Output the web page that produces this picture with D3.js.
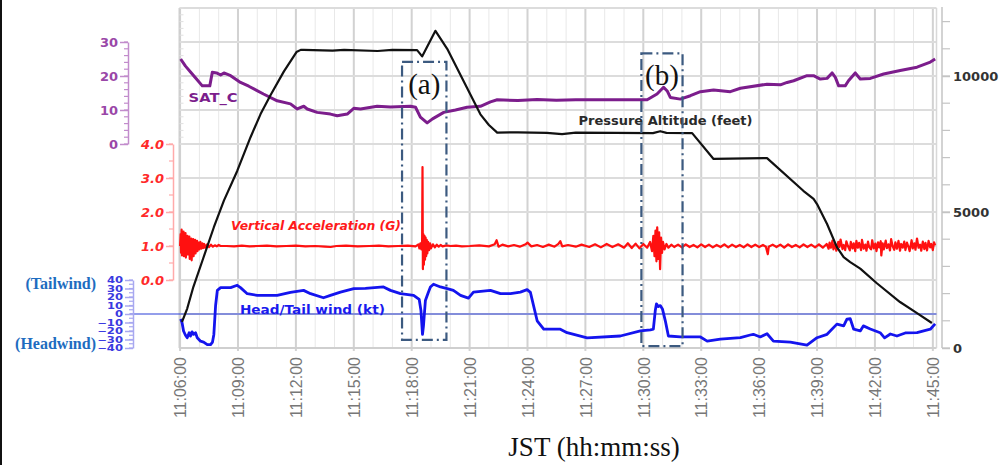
<!DOCTYPE html>
<html><head><meta charset="utf-8">
<script src="https://cdn.jsdelivr.net/npm/d3@7"></script>
<style>body{margin:0;background:#fff}svg{display:block}</style>
</head><body><svg id="c" width="1006" height="465"></svg>
<script>
// ---------- data (time in minutes after 11:06:00) ----------
const xTickLabels = ["11:06:00","11:09:00","11:12:00","11:15:00","11:18:00","11:21:00","11:24:00","11:27:00","11:30:00","11:33:00","11:36:00","11:39:00","11:42:00","11:45:00"];
const satTicks = [0,10,20,30];
const accTicks = [0,1,2,3,4];
const windTicks = [-40,-30,-20,-10,0,10,20,30,40];
const altTicks = [0,5000,10000];

const altT = [0.1,0.37,0.69,1.2,1.75,2.27,2.96,3.65,4.17,4.69,5.38,6.03,6.25,6.4,7.9,8.5,10.23,11.0,12.28,12.54,13.23,13.84,14.87,15.56,16.0,16.43,17.5,19.0,19.79,20.5,22.5,24.5,24.88,25.2,26.53,27.64,30.41,32.29,32.82,33.0,33.52,34.03,34.38,34.72,35.24,36.1,37.3,38.18,38.95];
const altV = [960,1450,2250,3300,4440,5420,6510,7750,8600,9300,10170,10880,10960,10960,10930,10960,10920,10960,10950,10720,11660,11000,9560,8590,8200,7920,7930,7910,7860,7920,7910,7900,7970,7910,7900,6950,6980,5780,5480,5290,4560,3710,3340,3160,2920,2380,1690,1280,920];

const satT = [0.03,0.28,0.54,0.85,1.15,1.54,1.67,1.89,2.1,2.27,2.62,3.13,3.56,4.32,5.03,5.72,6.07,6.41,6.59,7.1,7.79,8.14,8.66,9.0,9.35,10.21,10.9,11.94,12.2,12.45,12.8,13.08,13.66,14.27,14.87,15.56,16.08,16.43,17.5,18.5,19.5,20.5,22.0,24.2,24.71,25.05,25.25,25.4,25.92,26.44,26.96,27.64,28.51,29.03,30.41,31.1,31.45,31.79,32.48,32.82,33.17,33.52,33.78,33.95,34.12,34.46,34.63,34.98,35.24,35.76,36.45,37.31,38.18,38.87,39.12];
const satV = [25,22.9,21.2,19.1,17.1,17.1,21.1,20.9,20.3,20.9,20.1,18.1,17.0,14.7,12.7,11.8,10.3,11.1,10.3,9.3,8.8,8.3,8.8,10.5,10.3,11.1,10.9,11.1,10.8,7.9,6.2,7.4,9.3,10.0,10.8,11.1,12.4,13.0,12.8,13.1,12.9,13.0,13.0,13.0,14.7,16.7,15.5,13.7,13.2,14.2,15.4,15.9,15.4,16.4,17.6,17.4,18.1,18.6,20.1,20.1,19.1,19.3,20.9,19.6,17.1,17.1,18.6,20.9,19.1,19.3,20.6,21.6,22.6,24.1,25.0];

const accT = [0.00,0.03,0.05,0.08,0.10,0.13,0.15,0.18,0.20,0.23,0.25,0.28,0.30,0.33,0.35,0.38,0.40,0.43,0.45,0.48,0.50,0.53,0.55,0.58,0.60,0.63,0.65,0.68,0.70,0.73,0.75,0.78,0.80,0.83,0.85,0.88,0.90,0.95,1.00,1.05,1.10,1.15,1.20,1.25,1.30,1.40,1.50,1.60,1.70,1.80,1.90,2.00,2.10,
2.4,2.8,3.2,3.6,4.0,4.5,5.0,5.5,6.0,6.5,7.0,7.5,7.8,8.1,8.6,9.2,9.8,10.3,10.8,11.3,11.8,12.2,12.35,12.4,
12.45,12.50,12.54,12.56,12.58,12.60,12.63,12.66,12.69,12.72,12.75,12.78,12.81,12.85,12.9,12.95,13.0,13.1,13.2,13.3,13.4,13.5,13.6,13.8,14.0,14.3,14.6,15.0,
15.5,16.0,16.3,16.4,16.5,16.7,17.0,17.3,17.6,17.9,18.0,18.2,18.5,18.8,19.1,19.4,19.6,19.7,19.8,20.1,20.5,20.8,21.2,21.5,21.8,22.1,22.4,22.7,23.0,23.2,23.4,23.6,23.8,24.0,24.2,
24.35,24.45,24.52,24.58,24.63,24.68,24.72,24.78,24.82,24.87,24.92,24.97,25.02,25.1,25.2,25.3,25.45,25.6,
25.8,26.0,26.2,26.4,26.6,26.8,27.0,27.2,27.4,27.6,27.8,28.0,28.2,28.4,28.6,28.8,29.0,29.2,29.4,29.6,29.8,30.0,30.2,30.35,30.45,30.5,30.7,30.9,31.1,31.3,31.5,31.7,31.9,32.1,32.3,32.5,32.7,32.9,33.1,33.3,33.5,
33.6,33.65,33.72,33.8,33.85,33.94,34.0,34.1,34.16,34.22,34.32,34.38,34.46,34.52,34.6,34.7,34.75,34.84,34.9,34.98,35.04,35.12,35.18,35.28,35.33,35.42,35.5,35.56,35.64,35.7,35.8,35.86,35.94,36.02,36.08,36.16,36.22,36.3,36.33,36.4,36.46,36.56,36.62,36.7,36.78,36.84,36.92,37.0,37.06,37.14,37.22,37.3,37.36,37.44,37.52,37.58,37.66,37.74,37.8,37.9,37.96,38.04,38.1,38.18,38.26,38.34,38.4,38.48,38.56,38.62,38.7,38.78,38.86,38.92,39.0,39.06,39.12];
const accG = [1.00,1.35,0.80,1.48,0.72,1.30,0.85,1.42,0.70,1.25,0.90,1.38,0.66,1.20,0.82,1.30,0.75,1.18,0.95,1.28,0.62,1.15,0.80,1.22,0.58,1.12,0.88,1.20,0.70,1.10,0.90,1.18,0.78,1.08,0.92,1.15,0.85,1.10,0.90,1.12,0.92,1.08,0.94,1.06,0.95,1.05,0.97,1.04,0.98,1.02,0.99,1.03,1.00,
1.00,0.99,1.01,0.99,1.00,1.01,0.99,1.00,1.01,0.99,1.00,0.98,0.97,1.00,1.01,0.99,1.00,1.01,0.99,1.00,1.01,0.99,1.05,0.93,
1.08,0.90,1.15,3.32,0.32,1.35,0.45,1.30,0.60,1.25,0.70,1.18,0.78,1.12,0.88,1.08,0.93,1.05,0.96,1.04,0.98,1.03,0.99,1.02,1.00,1.01,0.99,1.00,
1.02,0.99,1.05,1.17,0.98,1.04,0.99,1.03,0.98,1.05,1.10,0.99,1.03,0.97,1.04,0.98,1.06,1.14,0.99,1.03,0.98,1.04,0.97,1.05,0.96,1.06,0.97,1.05,0.95,1.08,0.94,1.07,0.93,1.06,0.95,
1.12,0.85,1.30,0.70,1.45,0.55,1.55,0.62,1.40,0.32,1.25,0.80,1.12,0.90,1.06,0.95,1.04,0.97,
1.04,0.96,1.05,0.97,1.03,0.96,1.05,0.97,1.04,0.96,1.03,0.97,1.05,0.96,1.04,0.97,1.03,0.96,1.05,0.97,1.04,0.97,1.03,0.98,0.76,0.98,1.04,0.97,1.04,0.95,1.05,0.97,1.03,0.96,1.05,0.97,1.04,0.96,1.05,0.95,1.06,
0.92,1.10,0.95,1.16,0.90,1.06,0.86,1.12,0.97,1.19,0.91,1.03,0.88,1.14,1.00,0.87,1.12,0.93,1.08,0.85,1.15,0.95,1.09,0.88,1.18,0.92,1.04,0.86,1.13,0.97,0.90,1.17,0.93,1.07,0.85,1.11,0.96,1.14,0.72,1.08,0.90,1.16,0.94,1.05,0.87,1.20,0.99,0.89,1.11,0.92,1.15,0.86,1.06,0.95,1.13,0.88,1.10,0.97,0.85,1.17,0.93,1.08,0.89,1.22,0.95,1.04,0.86,1.13,0.91,1.09,0.87,1.15,0.96,1.06,0.88,1.11,1.02];

const windT = [0.03,0.1,0.18,0.28,0.37,0.47,0.54,0.62,0.7,0.8,0.89,1.06,1.22,1.41,1.58,1.68,1.75,1.84,1.93,2.1,2.62,2.96,3.13,3.48,4.0,5.03,5.72,6.4,6.76,7.43,7.79,8.31,9.0,9.6,10.54,10.9,11.42,12.1,12.39,12.48,12.56,12.61,12.71,12.86,12.97,13.13,13.49,13.84,14.16,14.53,14.94,15.2,16.08,16.6,17.12,17.63,17.98,18.15,18.5,18.84,19.7,20.05,21.09,22.81,23.85,24.37,24.52,24.62,24.68,24.78,24.88,24.99,25.14,25.3,25.92,26.96,27.31,27.99,29.03,29.54,29.7,30.06,30.41,30.74,31.62,32.48,33.0,33.52,34.03,34.38,34.55,34.72,34.9,35.24,35.4,35.76,36.27,36.5,36.8,37.14,37.57,38.18,38.87,39.12];
const windV = [-6,-10,-20,-25,-28,-22,-26,-21,-24,-22,-28,-32,-33,-36,-36,-33,-24,10,27.8,31,31,33.8,31,23.9,21.9,21.9,25.4,27.8,23.9,19.1,21.9,25.8,29.9,30.2,31.8,27.8,23.9,21.9,17.1,4,-23.9,-14,15.9,25.4,31.8,35,31.8,29.9,27.8,21.9,18.6,25.8,27.8,23.9,23.9,25.8,28.7,25.4,-8,-17.9,-17.9,-22,-28,-25.9,-19.9,-18.7,-17.9,4,11.9,8.7,9.9,6,-8,-25.9,-27,-27,-31.9,-29.5,-27.9,-24.7,-23.9,-27,-23.2,-31.9,-33,-36.7,-27.9,-23.9,-11.9,-14,-6,-5.6,-17.9,-19.9,-14,-17.6,-22,-28,-23.5,-25.9,-22.3,-22,-17.9,-11.6];

// annotation boxes: [start, end] times and altitude-axis extents
const boxTimes = [["11:17:30","11:19:48"],["11:29:54","11:32:02"]];
const boxAlt = [[10520,300],[10830,70]];
const boxLabels = ["(a)","(b)"];

// ---------- chart ----------
const svg = d3.select("#c");
const parse = d3.timeParse("%H:%M:%S");
const t0 = parse("11:06:00");
const toDate = m => new Date(t0.getTime() + m*60000);
const L = 179.5, R = 936.5, T = 8, B = 348;

const x = d3.scaleTime().domain([toDate(-0.03), toDate(39.19)]).range([L, R]);
const ySat = d3.scaleLinear().domain([0,30]).range([144,42]);
const yAcc = d3.scaleLinear().domain([0,4]).range([280,144]);
const yWind = d3.scaleLinear().domain([-40,40]).range([348,280]);
const yAlt = d3.scaleLinear().domain([0,12500]).range([348,8]);

// left black frame line
svg.append("rect").attr("x",0).attr("y",0).attr("width",2).attr("height",465).attr("fill","#111");

// grid
const g = svg.append("g");
const minorT = d3.timeMinute.every(1).range(toDate(0), toDate(39.1));
g.selectAll(".vm").data(minorT).join("line")
  .attr("x1",d=>x(d)).attr("x2",d=>x(d)).attr("y1",T).attr("y2",B)
  .attr("stroke","#e8e8e8").attr("stroke-width",1);
const majorT = xTickLabels.map(parse);
g.selectAll(".vM").data(majorT).join("line")
  .attr("x1",d=>x(d)).attr("x2",d=>x(d)).attr("y1",T).attr("y2",B+3)
  .attr("stroke","#d2d2d2").attr("stroke-width",2);
const rowYs = [40,30,20,10,0].map(ySat).concat([3,2,1,0].map(yAcc)).concat([yWind(0)]);
g.selectAll(".h").data(rowYs).join("line")
  .attr("x1",L).attr("x2",R).attr("y1",d=>d).attr("y2",d=>d)
  .attr("stroke","#dcdcdc").attr("stroke-width",2);
// frame
g.append("line").attr("x1",L).attr("x2",L).attr("y1",T).attr("y2",B).attr("stroke","#cfcfcf").attr("stroke-width",2);
g.append("line").attr("x1",L).attr("x2",R).attr("y1",B).attr("y2",B).attr("stroke","#cfcfcf").attr("stroke-width",2);
g.append("line").attr("x1",R).attr("x2",R).attr("y1",T).attr("y2",B).attr("stroke","#d8d8d8").attr("stroke-width",1.5);
g.selectAll(".lt").data(d3.range(0,40.1,2).map(ySat)).join("line")
  .attr("x1",L).attr("x2",L+4).attr("y1",d=>d).attr("y2",d=>d).attr("stroke","#e0e0e0");

// wind zero line
svg.append("line").attr("x1",130).attr("x2",R).attr("y1",yWind(0)).attr("y2",yWind(0))
  .attr("stroke","#2b3fd8").attr("stroke-width",1.2);

// axes
function styleAxis(sel, lineColor, textColor, fontSize, italic){
  sel.select(".domain").attr("stroke",lineColor).attr("stroke-width",1.5);
  sel.selectAll(".tick line").attr("stroke",lineColor).attr("stroke-width",1.5);
  sel.selectAll("text").attr("fill",textColor).attr("font-family","DejaVu Sans, sans-serif")
    .attr("font-weight","bold").attr("font-size",fontSize).attr("font-style",italic?"italic":"normal");
}
function minor(sel, scale, vals, len, color, side){
  sel.selectAll(".mn").data(vals).join("line").attr("class","mn")
    .attr("x1",0).attr("x2",side*len).attr("y1",d=>scale(d)).attr("y2",d=>scale(d))
    .attr("stroke",color).attr("stroke-width",1.2);
}
const aSat = svg.append("g").attr("transform","translate(128,0)");
aSat.call(d3.axisLeft(ySat).tickValues(satTicks).tickSize(8).tickSizeOuter(0).tickPadding(2).tickFormat(d3.format("d")));
styleAxis(aSat,"#c28ccc","#9a47a8",13,false);
minor(aSat.append("g"), ySat, d3.range(0,30.1,2), 4, "#c28ccc", -1);

const aAcc = svg.append("g").attr("transform","translate(173,0)");
aAcc.call(d3.axisLeft(yAcc).tickValues(accTicks).tickSize(7).tickSizeOuter(0).tickPadding(2).tickFormat(d3.format(".1f")));
styleAxis(aAcc,"#ffaaaa","#ff2a2a",13,true);
minor(aAcc.append("g"), yAcc, d3.range(0,4.01,0.5), 4, "#ffaaaa", -1);

const aWind = svg.append("g").attr("transform","translate(133,0)");
aWind.call(d3.axisLeft(yWind).tickValues(windTicks).tickSize(8).tickSizeOuter(0).tickPadding(2));
styleAxis(aWind,"#a8a8f0","#3a3ae0",8,false);
aWind.selectAll(".tick text").attr("x",-10/1.45).attr("dy","0.36em").attr("transform","scale(1.45,1)");
minor(aWind.append("g"), yWind, d3.range(-40,40.1,5), 4, "#a8a8f0", -1);

const aAlt = svg.append("g").attr("transform","translate(942,0)");
aAlt.call(d3.axisRight(yAlt).tickValues(altTicks).tickSize(8).tickSizeOuter(0).tickPadding(3).tickFormat(d3.format("d")));
aAlt.select(".domain").attr("d","M0,7V348");
styleAxis(aAlt,"#c4c4c4","#333",13,false);
minor(aAlt.append("g"), yAlt, d3.range(0,12001,1000), 8, "#c4c4c4", 1);

// x axis labels
const ax = svg.append("g").attr("transform",`translate(0,${B})`);
ax.call(d3.axisBottom(x).tickValues(majorT).tickSize(0).tickFormat(d3.timeFormat("%H:%M:%S")));
ax.select(".domain").remove();
ax.selectAll("text").attr("transform","rotate(-90)").attr("text-anchor","end")
  .attr("x",-9).attr("y",0).attr("dy","0.36em")
  .attr("fill","#777").attr("font-family","Liberation Sans, Arial, sans-serif").attr("font-size",16);

// series
const pts = (T_,V) => T_.map((t,i)=>[toDate(t),V[i]]);
const line = (ys) => d3.line().x(d=>x(d[0])).y(d=>ys(d[1]));
svg.append("path").datum(pts(satT,satV)).attr("d",line(ySat)).attr("fill","none")
  .attr("stroke","#7c1d8c").attr("stroke-width",3).attr("stroke-linejoin","round");
svg.append("path").datum(pts(accT,accG)).attr("d",line(yAcc)).attr("fill","none")
  .attr("stroke","#ff1010").attr("stroke-width",2.2).attr("stroke-linejoin","round");
svg.append("path").datum(pts(windT,windV)).attr("d",line(yWind)).attr("fill","none")
  .attr("stroke","#1414ee").attr("stroke-width",2.8).attr("stroke-linejoin","round");
svg.append("path").datum(pts(altT,altV)).attr("d",line(yAlt)).attr("fill","none")
  .attr("stroke","#111").attr("stroke-width",2.2).attr("stroke-linejoin","round");

// series labels
const lab = (txt,t,yv,col,opt={}) => svg.append("text").text(txt)
  .attr("x",x(toDate(t))).attr("y",yv).attr("fill",col)
  .attr("font-family","DejaVu Sans, sans-serif").attr("font-size",opt.fs||12)
  .attr("font-weight",opt.fw||"normal").attr("font-style",opt.it?"italic":"normal")
  .attr("textLength",opt.len).attr("lengthAdjust","spacingAndGlyphs");
lab("SAT_C",0.44,101.5,"#7c1d8c",{fw:"bold",len:49});
lab("Vertical Acceleration (G)",2.64,230,"#ff1a1a",{it:true,fw:"bold",len:170});
lab("Head/Tail wind (kt)",3.1,314,"#1a1aee",{fw:"bold",len:145});
lab("Pressure Altitude (feet)",20.64,125,"#2a2a2a",{fw:"bold",len:174});

// annotation boxes
boxTimes.forEach((bt,i)=>{
  const x0 = x(parse(bt[0])), x1 = x(parse(bt[1]));
  const y0 = yAlt(boxAlt[i][0]), y1 = yAlt(boxAlt[i][1]);
  svg.append("rect").attr("x",x0).attr("y",y0).attr("width",x1-x0).attr("height",y1-y0)
    .attr("fill","none").attr("stroke","#3c5a80").attr("stroke-width",2.2)
    .attr("stroke-dasharray","11,4,2,4");
  svg.append("text").text(boxLabels[i]).attr("x",(x0+x1)/2).attr("y",y0+32)
    .attr("text-anchor","middle").attr("font-family","Liberation Serif, serif").attr("font-size",29).attr("fill","#111");
});

// wind direction notes
svg.append("text").text("(Tailwind)").attr("x",96).attr("y",yWind(35)+5).attr("text-anchor","end")
  .attr("font-family","Liberation Serif, serif").attr("font-weight","bold").attr("font-size",16).attr("fill","#1e6cc0");
svg.append("text").text("(Headwind)").attr("x",96).attr("y",yWind(-35)+5).attr("text-anchor","end")
  .attr("font-family","Liberation Serif, serif").attr("font-weight","bold").attr("font-size",16).attr("fill","#1e6cc0");

// x title
svg.append("text").text("JST (hh:mm:ss)").attr("x",594).attr("y",456).attr("text-anchor","middle")
  .attr("font-family","Liberation Serif, serif").attr("font-size",27).attr("fill","#111");
</script></body></html>
